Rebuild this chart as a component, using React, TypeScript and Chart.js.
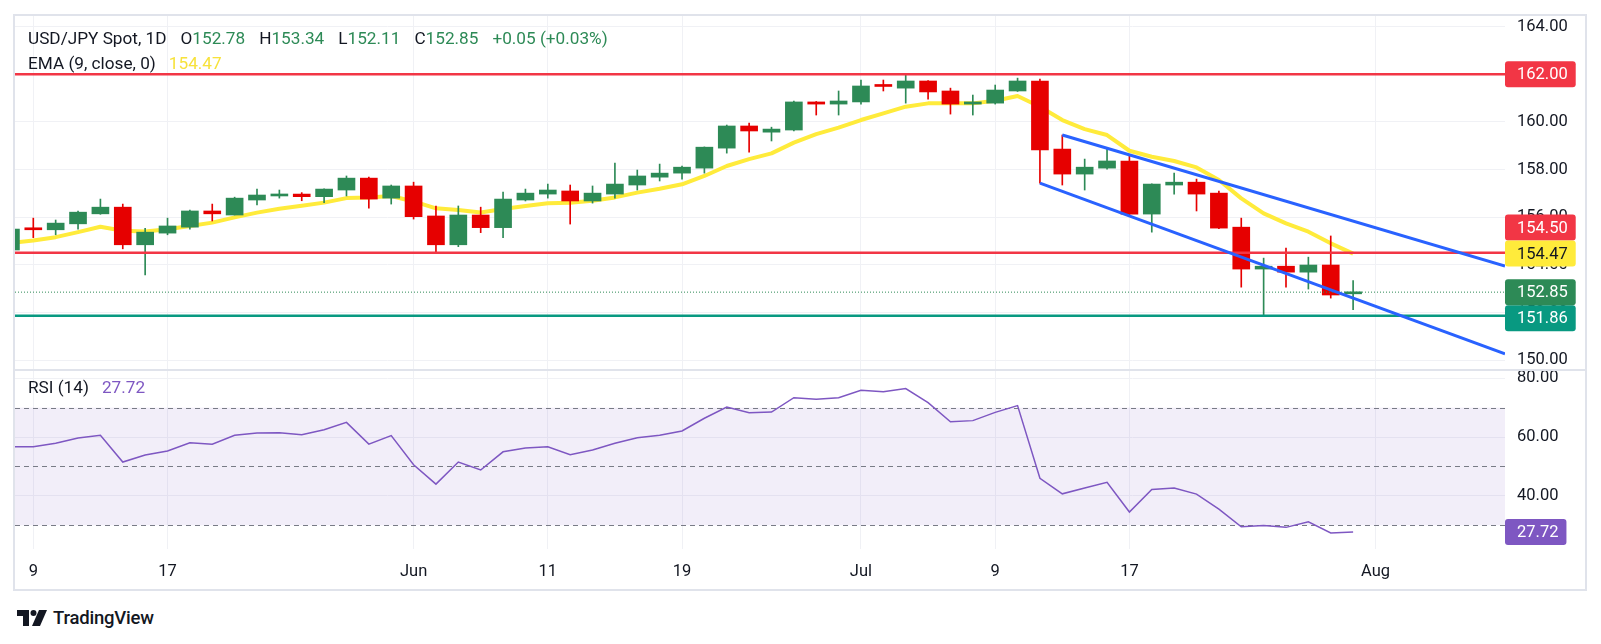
import React, { useEffect, useRef } from 'react';
import { Chart, registerables } from 'chart.js';

Chart.register(...registerables);

// ---------- DATA ----------
const dates = [
  '05-08','05-09','05-10','05-13','05-14','05-15','05-16','05-17','05-20','05-21','05-22','05-23','05-24','05-27','05-28','05-29','05-30','05-31',
  '06-03','06-04','06-05','06-06','06-07','06-10','06-11','06-12','06-13','06-14','06-17','06-18','06-19','06-20','06-21','06-24','06-25','06-26','06-27','06-28',
  '07-01','07-02','07-03','07-04','07-05','07-08','07-09','07-10','07-11','07-12','07-15','07-16','07-17','07-18','07-19','07-22','07-23','07-24','07-25','07-26','07-29','07-30','07-31',
];

const opens = [
  154.62,155.50,155.47,155.72,156.14,156.42,154.84,155.33,155.58,156.26,156.09,156.72,156.89,156.97,156.86,157.14,157.64,156.80,
  157.31,156.05,154.84,156.09,155.56,156.72,156.97,157.10,156.68,156.97,157.35,157.68,157.85,158.06,158.90,159.83,159.57,159.66,160.84,160.75,
  160.84,161.53,161.42,161.72,161.30,160.75,160.79,161.30,161.72,158.86,157.81,158.06,158.36,156.13,157.35,157.47,157.01,155.58,153.82,153.94,153.69,153.99,152.78,
];
const highs = [
  155.60,155.96,155.88,156.26,156.76,156.55,155.53,155.96,156.30,156.55,156.84,157.18,157.14,157.03,157.19,157.73,157.68,157.35,
  157.47,156.47,156.47,156.42,157.05,157.18,157.39,157.35,157.31,158.27,157.98,158.23,158.15,158.95,159.87,159.95,159.78,160.88,160.86,161.30,
  161.76,161.76,161.97,161.74,161.42,161.13,161.55,161.84,161.80,159.45,158.44,158.86,158.62,157.40,157.85,157.60,157.10,155.96,154.28,154.70,154.32,155.21,153.34,
];
const lows = [
  154.50,155.14,155.26,155.50,156.12,154.67,153.57,155.26,155.50,155.84,156.09,156.51,156.80,156.69,156.61,156.89,156.38,156.55,
  155.92,154.52,154.76,155.35,155.14,156.68,156.80,155.71,156.59,156.80,157.14,157.52,157.60,157.85,158.69,158.73,159.20,159.62,160.29,160.29,
  160.75,161.30,160.79,160.96,160.33,160.29,160.75,161.28,157.43,157.35,157.14,158.02,156.05,155.37,156.97,156.26,155.52,153.06,151.86,153.06,152.98,152.60,152.11,
];
const closes = [
  155.50,155.47,155.75,156.21,156.42,154.84,155.37,155.63,156.26,156.14,156.80,156.93,156.97,156.86,157.18,157.64,156.76,157.31,
  156.02,154.84,156.09,155.56,156.76,157.01,157.14,156.68,157.01,157.39,157.73,157.85,158.10,158.94,159.83,159.62,159.70,160.84,160.75,160.88,
  161.51,161.49,161.72,161.26,160.75,160.84,161.34,161.72,158.82,157.81,158.10,158.36,156.13,157.39,157.47,156.97,155.54,153.82,153.94,153.69,153.99,152.73,152.85,
];
const ema9 = [
  154.92,155.02,155.16,155.37,155.60,155.43,155.40,155.49,155.63,155.77,155.99,156.19,156.35,156.48,156.61,156.80,156.83,156.89,
  156.66,156.37,156.30,156.20,156.34,156.47,156.58,156.61,156.69,156.83,157.03,157.19,157.38,157.73,158.15,158.44,158.68,159.13,159.49,159.76,
  160.08,160.36,160.64,160.78,160.78,160.78,160.89,161.09,160.64,160.08,159.70,159.45,158.79,158.54,158.36,158.09,157.56,156.79,156.16,155.74,155.39,154.90,154.47,
];
const rsi14 = [
  56.7,56.7,57.9,59.7,60.6,51.5,53.9,55.3,58.1,57.6,60.6,61.4,61.5,60.8,62.5,65.0,57.6,60.5,
  50.6,44.0,51.5,48.8,55.0,56.3,56.7,54.0,55.6,57.9,59.8,60.6,62.1,66.4,70.2,68.3,68.5,73.4,72.9,73.4,
  75.9,75.4,76.5,71.7,65.2,65.6,68.4,70.7,46.0,40.7,42.7,44.6,34.5,42.2,42.7,40.6,35.5,29.5,29.9,29.3,31.2,27.4,27.72,
];

const xTickPos = [0, 6, 17, 23, 29, 37, 43, 49, 60];
const xTickLabels = ['9', '17', 'Jun', '11', '19', 'Jul', '9', '17', 'Aug'];
const priceTicks = [150, 152, 154, 156, 158, 160, 162, 164];
const rsiTicks = [40, 60, 80];
const rsiBands = [70, 50, 30];

const resistanceLevels = [162.0, 154.5];
const supportLevels = [151.86];
const upperChannelX = [46, 65.79];
const upperChannelY = [159.45, 153.95];
const lowerChannelX = [45, 65.79];
const lowerChannelY = [157.43, 150.26];

const legendOHLC = [['O', '152.78'], ['H', '153.34'], ['L', '152.11'], ['C', '152.85']];
const legendChange = '+0.05 (+0.03%)';
const lastClose = 152.85;
const lastEma = 154.47;
const lastRsi = 27.72;

// ---------- STYLE ----------
const X_MIN = -0.818;
const X_MAX = 65.79;
const GREEN = '#2D8A56';
const RED = '#E60000';
const LINE_RED = '#F23645';
const TEAL = '#089981';
const YELLOW = '#FFEB3B';
const BLUE = '#2962FF';
const PURPLE = '#7E57C2';
const GRID = '#F0F1F5';
const TEXT = '#131722';
const FONT = 'Roboto, "Noto Sans", sans-serif';
const AXIS_FONT_SIZE = 16.5;

const xs = dates.map((_, k) => k - 1);
const candleColors = closes.map((c, k) => (c >= opens[k] ? GREEN : RED));

function drawBadge(ctx: CanvasRenderingContext2D, x: number, yc: number, text: string, bg: string, fg: string) {
  ctx.save();
  ctx.font = `${AXIS_FONT_SIZE}px ${FONT}`;
  const tw = ctx.measureText(text).width;
  const w = 12 + tw + 8;
  const h = 26;
  ctx.fillStyle = bg;
  ctx.beginPath();
  (ctx as any).roundRect(x, yc - h / 2, w, h, 3);
  ctx.fill();
  ctx.fillStyle = fg;
  ctx.textAlign = 'left';
  ctx.textBaseline = 'middle';
  ctx.fillText(text, x + 12, yc + 1);
  ctx.restore();
}

const priceBadges = {
  id: 'priceBadges',
  afterDraw(chart: any) {
    const { ctx, chartArea, scales } = chart;
    const y = scales.y;
    const H = 26;
    const fixed = [
      { v: lastClose, bg: GREEN, fg: '#FFFFFF' },
      { v: lastEma, bg: YELLOW, fg: TEXT },
    ].map((b) => ({ ...b, yc: y.getPixelForValue(b.v) }));
    const movable = [
      ...resistanceLevels.map((v) => ({ v, bg: LINE_RED, fg: '#FFFFFF' })),
      ...supportLevels.map((v) => ({ v, bg: TEAL, fg: '#FFFFFF' })),
    ].map((b) => {
      let yc = y.getPixelForValue(b.v);
      fixed.forEach((f) => {
        if (Math.abs(yc - f.yc) < H) yc = b.v > f.v ? f.yc - H : f.yc + H;
      });
      return { ...b, yc };
    });
    [...movable, ...fixed].forEach((b) => drawBadge(ctx, chartArea.right, b.yc, b.v.toFixed(2), b.bg, b.fg));
  },
};

const rsiDecor = {
  id: 'rsiDecor',
  beforeDatasetsDraw(chart: any) {
    const { ctx, chartArea, scales } = chart;
    const y = scales.y;
    const top = y.getPixelForValue(rsiBands[0]);
    const bot = y.getPixelForValue(rsiBands[2]);
    ctx.save();
    ctx.fillStyle = 'rgba(126, 87, 194, 0.1)';
    ctx.fillRect(chartArea.left, top, chartArea.right - chartArea.left, bot - top);
    ctx.strokeStyle = '#787B86';
    ctx.lineWidth = 1;
    ctx.setLineDash([5, 4]);
    rsiBands.forEach((v) => {
      const py = Math.round(y.getPixelForValue(v)) + 0.5;
      ctx.beginPath();
      ctx.moveTo(chartArea.left, py);
      ctx.lineTo(chartArea.right, py);
      ctx.stroke();
    });
    ctx.restore();
  },
  afterDraw(chart: any) {
    const { ctx, chartArea, scales } = chart;
    drawBadge(ctx, chartArea.right, scales.y.getPixelForValue(lastRsi), lastRsi.toFixed(2), PURPLE, '#FFFFFF');
  },
};

function xAxis(showLabels: boolean) {
  return {
    type: 'linear',
    min: X_MIN,
    max: X_MAX,
    offset: false,
    display: true,
    grid: { color: GRID, drawTicks: false, offset: false },
    border: { display: false },
    ticks: {
      display: showLabels,
      autoSkip: false,
      maxRotation: 0,
      padding: 13,
      color: TEXT,
      font: { family: FONT, size: AXIS_FONT_SIZE },
      callback: (_v: any, i: number) => xTickLabels[i],
    },
    afterBuildTicks: (s: any) => {
      s.ticks = xTickPos.map((v) => ({ value: v }));
    },
    afterFit: (s: any) => {
      s.height = showLabels ? 40 : 0;
      s.paddingLeft = 0;
      s.paddingRight = 0;
    },
  };
}

function yAxis(min: number, max: number, ticks: number[]) {
  return {
    position: 'right',
    min,
    max,
    beginAtZero: false,
    grid: { color: GRID, drawTicks: false },
    border: { display: false },
    ticks: {
      padding: 12,
      color: TEXT,
      font: { family: FONT, size: AXIS_FONT_SIZE },
      callback: (v: any) => Number(v).toFixed(2),
    },
    afterBuildTicks: (s: any) => {
      s.ticks = ticks.map((v) => ({ value: v }));
    },
    afterFit: (s: any) => {
      s.width = 80;
      s.paddingTop = 0;
      s.paddingBottom = 0;
    },
  };
}

function hLine(v: number, color: string, width: number, dash: number[] = []) {
  return {
    type: 'line',
    data: [{ x: X_MIN, y: v }, { x: X_MAX, y: v }],
    borderColor: color,
    borderWidth: width,
    borderDash: dash,
    pointRadius: 0,
    order: 5,
  };
}

export default function App() {
  const priceRef = useRef<HTMLCanvasElement>(null);
  const rsiRef = useRef<HTMLCanvasElement>(null);

  useEffect(() => {
    const priceChart = new Chart(priceRef.current as HTMLCanvasElement, {
      type: 'bar',
      data: {
        datasets: [
          {
            type: 'line',
            data: xs.map((x, k) => ({ x, y: ema9[k] })),
            borderColor: YELLOW,
            borderWidth: 4,
            pointRadius: 0,
            tension: 0,
            borderJoinStyle: 'round',
            order: 10,
          },
          {
            type: 'bar',
            data: xs.map((x, k) => ({ x, y: [lows[k], highs[k]] })),
            backgroundColor: candleColors,
            barThickness: 1,
            grouped: false,
            order: 9,
          },
          {
            type: 'bar',
            data: xs.map((x, k) => ({ x, y: [opens[k], closes[k]] })),
            backgroundColor: candleColors,
            barThickness: 17,
            minBarLength: 2,
            grouped: false,
            order: 8,
          },
          ...resistanceLevels.map((v) => hLine(v, LINE_RED, 2.5)),
          ...supportLevels.map((v) => hLine(v, TEAL, 2.5)),
          hLine(lastClose, GREEN, 1, [1, 2]),
          {
            type: 'line',
            data: upperChannelX.map((x, k) => ({ x, y: upperChannelY[k] })),
            borderColor: BLUE,
            borderWidth: 3,
            pointRadius: 0,
            order: 4,
          },
          {
            type: 'line',
            data: lowerChannelX.map((x, k) => ({ x, y: lowerChannelY[k] })),
            borderColor: BLUE,
            borderWidth: 3,
            pointRadius: 0,
            order: 4,
          },
        ] as any,
      },
      options: {
        responsive: false,
        maintainAspectRatio: false,
        devicePixelRatio: 1,
        animation: false,
        layout: { padding: 0 },
        plugins: { legend: { display: false }, tooltip: { enabled: false } },
        scales: {
          x: xAxis(false) as any,
          y: yAxis(149.58, 164.45, priceTicks) as any,
        },
      },
      plugins: [priceBadges],
    });

    const rsiChart = new Chart(rsiRef.current as HTMLCanvasElement, {
      type: 'line',
      data: {
        datasets: [
          {
            data: xs.map((x, k) => ({ x, y: rsi14[k] })),
            borderColor: PURPLE,
            borderWidth: 1.5,
            pointRadius: 0,
            tension: 0,
          },
        ],
      },
      options: {
        responsive: false,
        maintainAspectRatio: false,
        devicePixelRatio: 1,
        animation: false,
        layout: { padding: 0 },
        plugins: { legend: { display: false }, tooltip: { enabled: false } },
        scales: {
          x: xAxis(true) as any,
          y: yAxis(21.94, 82.48, rsiTicks) as any,
        },
      },
      plugins: [rsiDecor],
    });

    return () => {
      priceChart.destroy();
      rsiChart.destroy();
    };
  }, []);

  const legendStyle: React.CSSProperties = {
    position: 'absolute',
    left: 28,
    fontSize: 17.2,
    lineHeight: '20px',
    color: TEXT,
    whiteSpace: 'pre',
    fontFamily: FONT,
  };

  return (
    <div style={{ position: 'absolute', left: 0, top: 0, width: 1601, height: 644, background: '#FFFFFF', overflow: 'hidden', fontFamily: FONT }}>
      <div style={{ position: 'absolute', left: 13, top: 14, width: 1574, height: 577, border: '2px solid #E0E3EB', boxSizing: 'border-box' }} />
      <canvas ref={priceRef} width={1570} height={354} style={{ position: 'absolute', left: 15, top: 16, width: 1570, height: 354 }} />
      <div style={{ position: 'absolute', left: 13, top: 369, width: 1574, height: 2, background: '#E0E3EB' }} />
      <canvas ref={rsiRef} width={1570} height={218} style={{ position: 'absolute', left: 15, top: 371, width: 1570, height: 218 }} />

      <div style={{ ...legendStyle, top: 28 }}>
        <span>USD/JPY Spot, 1D</span>
        {legendOHLC.map(([k, v]) => (
          <span key={k} style={{ marginLeft: 14 }}>
            {k}
            <span style={{ color: GREEN }}>{v}</span>
          </span>
        ))}
        <span style={{ marginLeft: 14, color: GREEN }}>{legendChange}</span>
      </div>
      <div style={{ ...legendStyle, top: 53 }}>
        <span>EMA (9, close, 0)</span>
        <span style={{ marginLeft: 13, color: '#F7E23B' }}>{lastEma.toFixed(2)}</span>
      </div>
      <div style={{ ...legendStyle, top: 377 }}>
        <span>RSI (14)</span>
        <span style={{ marginLeft: 13, color: PURPLE }}>{lastRsi.toFixed(2)}</span>
      </div>

      <div style={{ position: 'absolute', left: 17, top: 607, height: 22, display: 'flex', alignItems: 'center' }}>
        <svg width="30" height="16" viewBox="0 0 30 16">
          <path d="M0 0 H12 V16 H6 V6 H0 Z" fill={TEXT} />
          <circle cx="16.5" cy="3" r="3" fill={TEXT} />
          <path d="M22 0 H30 L23 16 H15 Z" fill={TEXT} />
        </svg>
        <span style={{ marginLeft: 6, fontSize: 18.5, fontWeight: 500, color: TEXT, letterSpacing: -0.2 }}>TradingView</span>
      </div>
    </div>
  );
}
